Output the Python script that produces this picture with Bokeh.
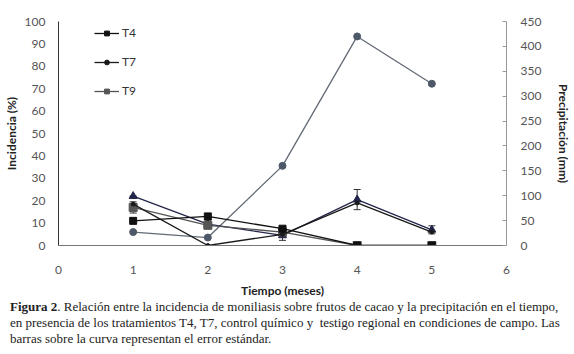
from bokeh.plotting import figure
from bokeh.models import (ColumnDataSource, Range1d, LinearAxis, Whisker, Legend,
                          LegendItem, Div, FixedTicker)
from bokeh.layouts import column
from bokeh.embed import file_html
from bokeh.resources import INLINE

meses = [1, 2, 3, 4, 5]
t4 = [11, 13, 7.5, 0, 0]
t7 = [18.5, 0, 5, 19, 6]
t9 = [17, 9, 6, 0, 0]
control = [22, 9.5, 4.5, 20.5, 7]
control_err = [0, 1.5, 2.2, 4.5, 1.8]
t9_err = [2.5, 0, 0, 0, 0]
precip = [27, 16, 160, 420, 325]

FONT = "Lato"
p = figure(width=574, height=300, x_range=Range1d(0, 6), y_range=Range1d(0, 100),
           output_backend="svg", toolbar_location=None,
           min_border_left=56, min_border_right=68, min_border_top=21, min_border_bottom=10)
p.outline_line_color = None
p.grid.grid_line_color = None
p.background_fill_color = "white"
p.border_fill_color = "white"

p.extra_y_ranges = {"mm": Range1d(0, 450)}

def style_axis(ax):
    ax.major_label_text_font = FONT
    ax.major_label_text_font_size = "12px"
    ax.major_label_text_color = "#555555"
    ax.axis_label_text_font = FONT
    ax.axis_label_text_font_size = "12px"
    ax.axis_label_text_font_style = "bold"
    ax.axis_label_text_color = "#222222"
    ax.minor_tick_line_color = None

xa = p.xaxis[0]
style_axis(xa)
xa.ticker = FixedTicker(ticks=[0, 1, 2, 3, 4, 5, 6])
xa.axis_label = "Tiempo (meses)"
xa.major_tick_line_color = None
xa.axis_line_color = "#777777"
xa.major_label_standoff = 14
xa.axis_label_standoff = 6

ya = p.yaxis[0]
style_axis(ya)
ya.ticker = FixedTicker(ticks=list(range(0, 101, 10)))
ya.axis_label = "Incidencia (%)"
ya.major_tick_line_color = None
ya.axis_line_color = "#333333"
ya.major_label_standoff = 7
ya.axis_label_standoff = 3

ra = LinearAxis(y_range_name="mm", axis_label="Precipitación (mm)")
style_axis(ra)
ra.ticker = FixedTicker(ticks=list(range(0, 451, 50)))
ra.axis_line_color = "#999999"
ra.major_tick_line_color = "#999999"
ra.major_tick_in = 4
ra.major_tick_out = 0
ra.major_label_standoff = 14
ra.axis_label_standoff = 12
p.add_layout(ra, "right")

# precipitation
sp = ColumnDataSource(dict(x=meses, y=precip))
p.line("x", "y", source=sp, y_range_name="mm", line_color="#626a75", line_width=1.3)
p.scatter("x", "y", source=sp, y_range_name="mm", size=7, marker="circle",
          fill_color="#4d5868", line_color="#4d5868")

def series(vals, color, marker, size, err=None):
    s = ColumnDataSource(dict(x=meses, y=vals,
                              lo=[v - e for v, e in zip(vals, err or [0]*5)],
                              hi=[v + e for v, e in zip(vals, err or [0]*5)]))
    r1 = p.line("x", "y", source=s, line_color=color, line_width=1.3)
    r2 = p.scatter("x", "y", source=s, marker=marker, size=size,
                   fill_color=color, line_color=color)
    if err:
        w = Whisker(base="x", lower="lo", upper="hi", source=s, line_color="#333333",
                    line_width=1)
        w.upper_head.size = 7
        w.lower_head.size = 7
        w.upper_head.line_color = "#333333"
        w.lower_head.line_color = "#333333"
        p.add_layout(w)
    return r1, r2

c1 = series(control, "#23254a", "triangle", 8, control_err)
c9 = series(t9, "#555555", "square", 8, t9_err)
c7 = series(t7, "#1a1a1a", "circle", 4)
c4 = series(t4, "#111111", "square", 7)

legend = Legend(items=[LegendItem(label="T4", renderers=list(c4)),
                       LegendItem(label="T7", renderers=list(c7)),
                       LegendItem(label="T9", renderers=list(c9))],
                location=(36, 147), orientation="vertical")
legend.background_fill_alpha = 0
legend.border_line_color = None
legend.padding = 0
legend.margin = 0
legend.spacing = 14
legend.label_height = 12
legend.glyph_height = 12
legend.glyph_width = 25
legend.label_standoff = 3
legend.label_text_font = FONT
legend.label_text_font_size = "12px"
legend.label_text_color = "#333333"
p.add_layout(legend)

caption = Div(width=574, height=54, text=(
    '<div style="font-family:\'Liberation Serif\';font-size:13px;line-height:16px;'
    'color:#222;white-space:nowrap;margin-left:5px;margin-top:-6px;">'
    '<b>Figura 2</b>. Relación entre la incidencia de moniliasis sobre frutos de cacao y la precipitación en el tiempo,<br>'
    'en presencia de los tratamientos T4, T7, control químico y&nbsp; testigo regional en condiciones de campo. Las<br>'
    'barras sobre la curva representan el error estándar.</div>'))

layout = column(p, caption, spacing=0)
open("out.html", "w").write(file_html(layout, INLINE))
